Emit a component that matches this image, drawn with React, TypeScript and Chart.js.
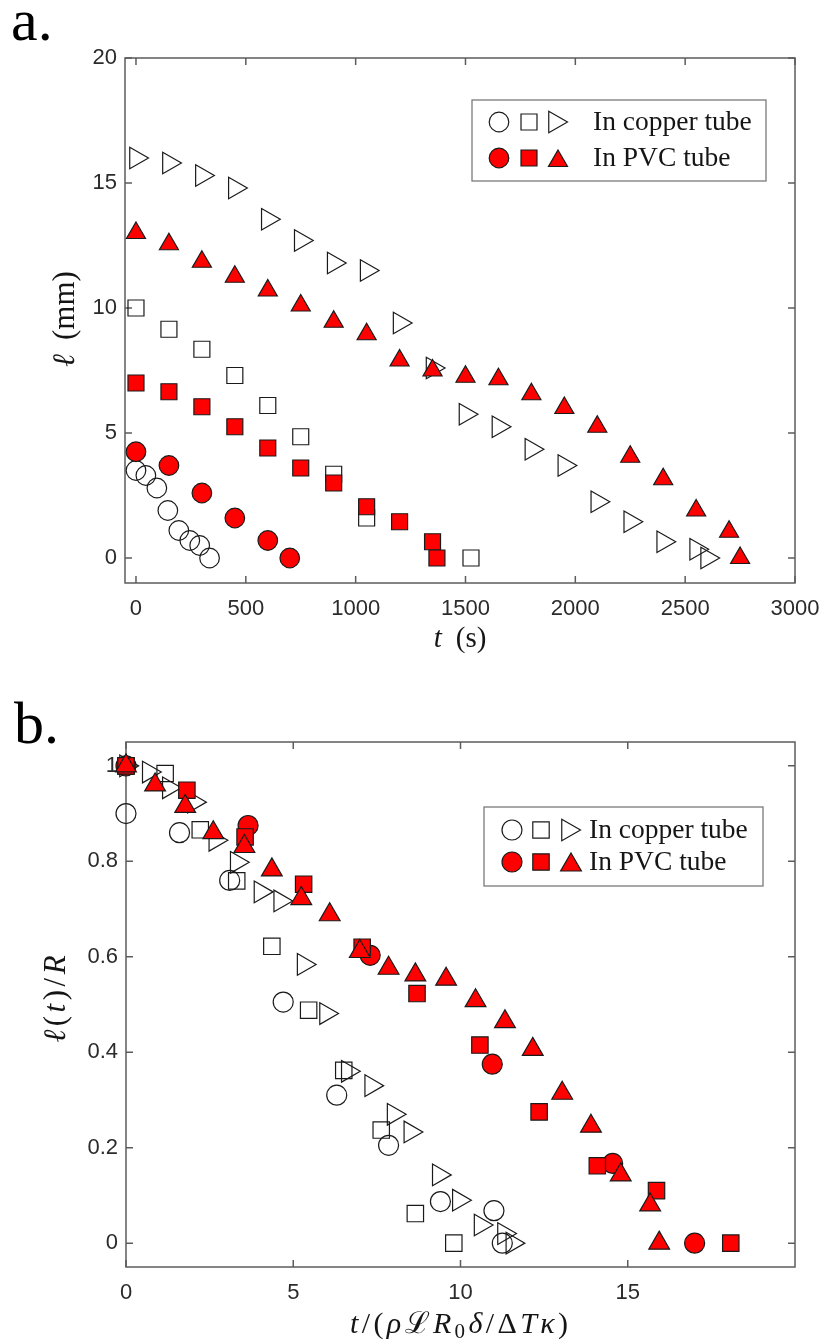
import React, { useEffect, useRef } from 'react';
import { Chart, registerables } from 'chart.js';

Chart.register(...registerables);

// ---------------- Panel a: l (mm) vs t (s) ----------------
const A_CU_CIRCLE_T = [0, 45, 95, 145, 195, 245, 290, 335];
const A_CU_CIRCLE_L = [3.5, 3.3, 2.8, 1.9, 1.1, 0.7, 0.5, 0];
const A_CU_SQUARE_T = [0, 150, 300, 450, 600, 750, 900, 1050, 1525];
const A_CU_SQUARE_L = [10, 9.15, 8.35, 7.3, 6.1, 4.85, 3.35, 1.6, 0];
const A_CU_TRI_T = [0, 150, 300, 450, 600, 750, 900, 1050, 1200, 1350, 1500, 1650, 1800, 1950, 2100, 2250, 2400, 2550, 2600];
const A_CU_TRI_L = [16, 15.8, 15.3, 14.8, 13.55, 12.7, 11.8, 11.5, 9.4, 7.6, 5.75, 5.25, 4.35, 3.7, 2.25, 1.45, 0.65, 0.35, 0];
const A_PVC_CIRCLE_T = [0, 150, 300, 450, 600, 700];
const A_PVC_CIRCLE_L = [4.25, 3.7, 2.6, 1.6, 0.7, 0];
const A_PVC_SQUARE_T = [0, 150, 300, 450, 600, 750, 900, 1050, 1200, 1350, 1370];
const A_PVC_SQUARE_L = [7.0, 6.65, 6.05, 5.25, 4.4, 3.6, 3.0, 2.05, 1.45, 0.65, 0];
const A_PVC_TRI_T = [0, 150, 300, 450, 600, 750, 900, 1050, 1200, 1350, 1500, 1650, 1800, 1950, 2100, 2250, 2400, 2550, 2700, 2750];
const A_PVC_TRI_L = [13, 12.55, 11.85, 11.25, 10.7, 10.1, 9.45, 8.95, 7.9, 7.5, 7.25, 7.15, 6.55, 6.0, 5.25, 4.05, 3.15, 1.9, 1.05, 0];
const A_X_TICKS = [0, 500, 1000, 1500, 2000, 2500, 3000];
const A_X_LABELS = ['0', '500', '1000', '1500', '2000', '2500', '3000'];
const A_Y_TICKS = [0, 5, 10, 15, 20];
const A_Y_LABELS = ['0', '5', '10', '15', '20'];

// ---------------- Panel b: l(t)/R vs scaled time ----------------
const B_CU_CIRCLE_X = [0, 1.6, 3.1, 4.7, 6.3, 7.85, 9.4, 11.0, 11.25];
const B_CU_CIRCLE_Y = [0.9, 0.86, 0.76, 0.505, 0.31, 0.205, 0.087, 0.068, 0];
const B_CU_SQUARE_X = [0, 1.17, 2.22, 3.31, 4.36, 5.46, 6.51, 7.63, 8.65, 9.8];
const B_CU_SQUARE_Y = [1.0, 0.984, 0.866, 0.759, 0.622, 0.488, 0.362, 0.237, 0.062, 0];
const B_CU_TRI_X = [0, 0.68, 1.28, 2.03, 2.67, 3.31, 4.02, 4.61, 5.31, 5.98, 6.63, 7.33, 8.0, 8.5, 9.35, 9.95, 10.6, 11.3, 11.55];
const B_CU_TRI_Y = [1.0, 0.987, 0.954, 0.924, 0.844, 0.798, 0.736, 0.717, 0.584, 0.481, 0.36, 0.33, 0.27, 0.233, 0.143, 0.09, 0.038, 0.02, 0];
const B_PVC_CIRCLE_X = [0, 3.65, 7.3, 10.95, 14.55, 17.0];
const B_PVC_CIRCLE_Y = [1.0, 0.875, 0.603, 0.375, 0.167, 0];
const B_PVC_SQUARE_X = [0, 1.82, 3.56, 5.31, 7.06, 8.7, 10.58, 12.35, 14.09, 15.86, 18.08];
const B_PVC_SQUARE_Y = [1.0, 0.949, 0.851, 0.752, 0.62, 0.523, 0.415, 0.275, 0.162, 0.11, 0];
const B_PVC_TRI_X = [0, 0.87, 1.77, 2.61, 3.54, 4.36, 5.24, 6.09, 6.99, 7.85, 8.65, 9.57, 10.45, 11.33, 12.16, 13.04, 13.9, 14.79, 15.67, 15.94];
const B_PVC_TRI_Y = [1.0, 0.96, 0.915, 0.86, 0.831, 0.782, 0.722, 0.688, 0.611, 0.576, 0.562, 0.553, 0.508, 0.464, 0.406, 0.314, 0.245, 0.143, 0.08, 0];
const B_X_TICKS = [0, 5, 10, 15];
const B_X_LABELS = ['0', '5', '10', '15'];
const B_Y_TICKS = [0, 0.2, 0.4, 0.6, 0.8, 1];
const B_Y_LABELS = ['0', '0.2', '0.4', '0.6', '0.8', '1'];

const LEGEND_LABELS = ['In copper tube', 'In PVC tube'];

const AXIS_COLOR = '#5c5c5c';
const TICK_COLOR = '#2b2b2b';
const TEXT_COLOR = '#151515';
const RED = '#ff0000';
const EDGE = '#1a1a1a';
const NONE = 'rgba(0,0,0,0)';
const SERIF = '"Liberation Serif", "DejaVu Serif", serif';
const SANS = '"Liberation Sans", Arial, sans-serif';

type Seg = { t: string; i?: boolean; sub?: boolean };

function drawRich(ctx: CanvasRenderingContext2D, segs: Seg[], cx: number, cy: number, size: number, target: number, maxGap: number, rotate = false) {
  ctx.save();
  ctx.translate(cx, cy);
  if (rotate) ctx.rotate(-Math.PI / 2);
  const fontFor = (s: Seg) => `${s.i ? 'italic ' : ''}${s.sub ? Math.round(size * 0.7) : size}px ${SERIF}`;
  const widths = segs.map((s) => {
    ctx.font = fontFor(s);
    return ctx.measureText(s.t).width;
  });
  const raw = widths.reduce((a, b) => a + b, 0);
  const gap = segs.length > 1 ? Math.min(maxGap, Math.max(0, (target - raw) / (segs.length - 1))) : 0;
  let x = -(raw + gap * (segs.length - 1)) / 2;
  ctx.textAlign = 'left';
  ctx.textBaseline = 'alphabetic';
  ctx.fillStyle = TEXT_COLOR;
  const base = size * 0.25;
  segs.forEach((s, k) => {
    ctx.font = fontFor(s);
    ctx.fillText(s.t, x, base + (s.sub ? size * 0.18 : 0));
    x += widths[k] + gap;
  });
  ctx.restore();
}

type Shape = 'circle' | 'rect' | 'triUp' | 'triRight';

function drawMarker(ctx: CanvasRenderingContext2D, shape: Shape, x: number, y: number, r: number, fill: string) {
  ctx.save();
  ctx.beginPath();
  if (shape === 'circle') {
    ctx.arc(x, y, r, 0, Math.PI * 2);
  } else if (shape === 'rect') {
    const h = r * Math.SQRT1_2;
    ctx.rect(x - h, y - h, 2 * h, 2 * h);
  } else {
    let a = shape === 'triRight' ? Math.PI / 2 : 0;
    for (let k = 0; k < 3; k++) {
      const px = x + Math.sin(a) * r;
      const py = y - Math.cos(a) * r;
      if (k === 0) ctx.moveTo(px, py);
      else ctx.lineTo(px, py);
      a += (2 * Math.PI) / 3;
    }
    ctx.closePath();
  }
  ctx.fillStyle = fill;
  ctx.fill();
  ctx.strokeStyle = EDGE;
  ctx.lineWidth = 1.2;
  ctx.stroke();
  ctx.restore();
}

type Title = { segs: Seg[]; cx: number; cy: number; size: number; w: number; maxGap: number };
type Spec = {
  letter: string;
  letterX: number;
  letterY: number;
  legend: { x: number; y: number; w: number; h: number; rows: number[]; mx: number[]; tx: number };
  xTitle: Title;
  yTitle: Title;
  sizes: { circle: number; rect: number; triUp: number; triRight: number };
};

function makeFramePlugin(spec: Spec) {
  return {
    id: 'frame',
    beforeDatasetsDraw(chart: any) {
      const { ctx, chartArea: a, scales } = chart;
      ctx.save();
      ctx.strokeStyle = AXIS_COLOR;
      ctx.lineWidth = 1.5;
      const L = 7;
      ctx.beginPath();
      scales.x.ticks.forEach((t: any) => {
        const px = scales.x.getPixelForValue(t.value);
        ctx.moveTo(px, a.bottom);
        ctx.lineTo(px, a.bottom - L);
        ctx.moveTo(px, a.top);
        ctx.lineTo(px, a.top + L);
      });
      scales.y.ticks.forEach((t: any) => {
        const py = scales.y.getPixelForValue(t.value);
        ctx.moveTo(a.left, py);
        ctx.lineTo(a.left + L, py);
        ctx.moveTo(a.right, py);
        ctx.lineTo(a.right - L, py);
      });
      ctx.stroke();
      ctx.strokeRect(a.left, a.top, a.right - a.left, a.bottom - a.top);
      ctx.restore();
    },
    afterDatasetsDraw(chart: any) {
      const ctx: CanvasRenderingContext2D = chart.ctx;
      const lg = spec.legend;
      ctx.save();
      ctx.fillStyle = '#ffffff';
      ctx.fillRect(lg.x, lg.y, lg.w, lg.h);
      ctx.strokeStyle = '#7a7a7a';
      ctx.lineWidth = 1.3;
      ctx.strokeRect(lg.x, lg.y, lg.w, lg.h);
      const s = spec.sizes;
      drawMarker(ctx, 'circle', lg.mx[0], lg.rows[0], s.circle, NONE);
      drawMarker(ctx, 'rect', lg.mx[1], lg.rows[0], s.rect, NONE);
      drawMarker(ctx, 'triRight', lg.mx[2] - 3, lg.rows[0], s.triRight, NONE);
      drawMarker(ctx, 'circle', lg.mx[0], lg.rows[1], s.circle, RED);
      drawMarker(ctx, 'rect', lg.mx[1], lg.rows[1], s.rect, RED);
      drawMarker(ctx, 'triUp', lg.mx[2], lg.rows[1] + 3, s.triUp, RED);
      ctx.fillStyle = TEXT_COLOR;
      ctx.font = `27.5px ${SERIF}`;
      ctx.textAlign = 'left';
      ctx.textBaseline = 'middle';
      ctx.fillText(LEGEND_LABELS[0], lg.tx, lg.rows[0] + 1);
      ctx.fillText(LEGEND_LABELS[1], lg.tx, lg.rows[1] + 1);
      ctx.restore();

      const xt = spec.xTitle;
      drawRich(ctx, xt.segs, xt.cx, xt.cy, xt.size, xt.w, xt.maxGap);
      const yt = spec.yTitle;
      drawRich(ctx, yt.segs, yt.cx, yt.cy, yt.size, yt.w, yt.maxGap, true);

      ctx.save();
      ctx.fillStyle = '#000000';
      ctx.font = `60px ${SERIF}`;
      ctx.textAlign = 'left';
      ctx.textBaseline = 'alphabetic';
      ctx.fillText(spec.letter, spec.letterX, spec.letterY);
      ctx.restore();
    },
  };
}

function series(xs: number[], ys: number[], shape: Shape, r: number, fill: string, order: number) {
  return {
    data: xs.map((x, i) => ({ x, y: ys[i] })),
    showLine: false,
    pointStyle: shape === 'circle' ? 'circle' : shape === 'rect' ? 'rect' : 'triangle',
    pointRotation: shape === 'triRight' ? 90 : 0,
    pointRadius: r,
    pointHoverRadius: r,
    pointBackgroundColor: fill,
    pointBorderColor: EDGE,
    pointBorderWidth: 1.2,
    backgroundColor: fill,
    borderColor: EDGE,
    clip: false,
    order,
  };
}

function makeConfig(opts: {
  datasets: any[];
  xMin: number; xMax: number; yMin: number; yMax: number;
  xTicks: number[]; xLabels: string[]; yTicks: number[]; yLabels: string[];
  padTop: number; padRight: number; yWidth: number; xHeight: number;
  spec: Spec;
}) {
  const tickFont = { family: SANS, size: 22 };
  const grid = { display: false, drawTicks: false, tickLength: 0 };
  return {
    type: 'scatter' as const,
    data: { datasets: opts.datasets },
    options: {
      animation: false as const,
      responsive: false,
      maintainAspectRatio: false,
      events: [],
      layout: { padding: { top: opts.padTop, right: opts.padRight, left: 0, bottom: 0 } },
      plugins: { legend: { display: false }, tooltip: { enabled: false } },
      scales: {
        x: {
          type: 'linear' as const,
          min: opts.xMin,
          max: opts.xMax,
          grid,
          border: { display: false },
          ticks: {
            font: tickFont,
            color: TICK_COLOR,
            padding: 13,
            maxRotation: 0,
            autoSkip: false,
            callback: (_v: any, i: number) => opts.xLabels[i],
          },
          afterBuildTicks: (s: any) => {
            s.ticks = opts.xTicks.map((v) => ({ value: v }));
          },
          afterFit: (s: any) => {
            s.height = opts.xHeight;
            s.paddingLeft = 0;
            s.paddingRight = 0;
          },
        },
        y: {
          type: 'linear' as const,
          min: opts.yMin,
          max: opts.yMax,
          grid,
          border: { display: false },
          ticks: {
            font: tickFont,
            color: TICK_COLOR,
            padding: 8,
            autoSkip: false,
            callback: (_v: any, i: number) => opts.yLabels[i],
          },
          afterBuildTicks: (s: any) => {
            s.ticks = opts.yTicks.map((v) => ({ value: v }));
          },
          afterFit: (s: any) => {
            s.width = opts.yWidth;
            s.paddingTop = 0;
            s.paddingBottom = 0;
          },
        },
      },
    },
    plugins: [makeFramePlugin(opts.spec)],
  };
}

export default function App() {
  const refA = useRef<HTMLCanvasElement | null>(null);
  const refB = useRef<HTMLCanvasElement | null>(null);

  useEffect(() => {
    document.body.style.margin = '0';
    const sizesA = { circle: 9.8, rect: 11.3, triUp: 11, triRight: 12.5 };
    const sizesB = { circle: 10, rect: 11.6, triUp: 12, triRight: 12.5 };

    const dsA = [
      series(A_PVC_TRI_T, A_PVC_TRI_L, 'triUp', sizesA.triUp, RED, 0),
      series(A_PVC_SQUARE_T, A_PVC_SQUARE_L, 'rect', sizesA.rect, RED, 1),
      series(A_PVC_CIRCLE_T, A_PVC_CIRCLE_L, 'circle', sizesA.circle, RED, 2),
      series(A_CU_TRI_T, A_CU_TRI_L, 'triRight', sizesA.triRight, NONE, 3),
      series(A_CU_SQUARE_T, A_CU_SQUARE_L, 'rect', sizesA.rect, NONE, 4),
      series(A_CU_CIRCLE_T, A_CU_CIRCLE_L, 'circle', sizesA.circle, NONE, 5),
    ];
    const dsB = [
      series(B_PVC_TRI_X, B_PVC_TRI_Y, 'triUp', sizesB.triUp, RED, 0),
      series(B_PVC_SQUARE_X, B_PVC_SQUARE_Y, 'rect', sizesB.rect, RED, 1),
      series(B_PVC_CIRCLE_X, B_PVC_CIRCLE_Y, 'circle', sizesB.circle, RED, 2),
      series(B_CU_TRI_X, B_CU_TRI_Y, 'triRight', sizesB.triRight, NONE, 3),
      series(B_CU_SQUARE_X, B_CU_SQUARE_Y, 'rect', sizesB.rect, NONE, 4),
      series(B_CU_CIRCLE_X, B_CU_CIRCLE_Y, 'circle', sizesB.circle, NONE, 5),
    ];

    const specA: Spec = {
      letter: 'a.',
      letterX: 11,
      letterY: 40,
      legend: { x: 472, y: 100, w: 294, h: 81, rows: [122, 158], mx: [499, 529, 558], tx: 593 },
      xTitle: { segs: [{ t: 't', i: true }, { t: '(s)' }], cx: 460, cy: 640, size: 29, w: 55, maxGap: 14 },
      yTitle: { segs: [{ t: 'ℓ', i: true }, { t: '(mm)' }], cx: 66, cy: 319, size: 31, w: 98, maxGap: 14 },
      sizes: sizesA,
    };
    const specB: Spec = {
      letter: 'b.',
      letterX: 14,
      letterY: 71,
      legend: { x: 484, y: 135, w: 279, h: 79, rows: [158, 190], mx: [512, 541, 571], tx: 589 },
      xTitle: {
        segs: [
          { t: 't', i: true }, { t: '/' }, { t: '(' }, { t: 'ρ', i: true }, { t: 'ℒ' }, { t: 'R', i: true },
          { t: '0', sub: true }, { t: 'δ', i: true }, { t: '/' }, { t: 'Δ' }, { t: 'T', i: true }, { t: 'κ', i: true }, { t: ')' },
        ],
        cx: 459, cy: 653, size: 30, w: 218, maxGap: 4,
      },
      yTitle: {
        segs: [{ t: 'ℓ', i: true }, { t: '(' }, { t: 't', i: true }, { t: ')' }, { t: '/' }, { t: 'R', i: true }],
        cx: 57, cy: 327, size: 31, w: 92, maxGap: 3.5,
      },
      sizes: sizesB,
    };

    const chartA = new Chart(refA.current as HTMLCanvasElement, makeConfig({
      datasets: dsA, xMin: -50, xMax: 3000, yMin: -1, yMax: 20,
      xTicks: A_X_TICKS, xLabels: A_X_LABELS, yTicks: A_Y_TICKS, yLabels: A_Y_LABELS,
      padTop: 58, padRight: 30, yWidth: 125, xHeight: 89, spec: specA,
    }) as any);
    const chartB = new Chart(refB.current as HTMLCanvasElement, makeConfig({
      datasets: dsB, xMin: 0, xMax: 20, yMin: -0.05, yMax: 1.05,
      xTicks: B_X_TICKS, xLabels: B_X_LABELS, yTicks: B_Y_TICKS, yLabels: B_Y_LABELS,
      padTop: 70, padRight: 30, yWidth: 126, xHeight: 77, spec: specB,
    }) as any);

    return () => {
      chartA.destroy();
      chartB.destroy();
    };
  }, []);

  return (
    <div style={{ position: 'relative', width: 825, height: 1344, background: '#ffffff' }}>
      <canvas ref={refA} width={825} height={672} style={{ position: 'absolute', left: 0, top: 0, display: 'block' }} />
      <canvas ref={refB} width={825} height={672} style={{ position: 'absolute', left: 0, top: 672, display: 'block' }} />
    </div>
  );
}
